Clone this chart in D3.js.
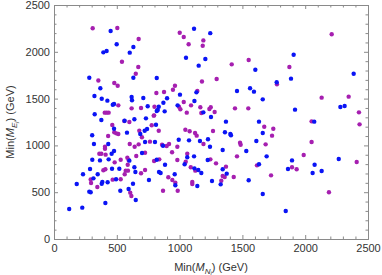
<!DOCTYPE html>
<html>
<head>
<meta charset="utf-8">
<script src="https://cdn.jsdelivr.net/npm/d3@7"></script>
<style>
  body { margin: 0; background: #fff; }
  svg { display: block; }
</style>
</head>
<body>
<div id="chart-area"></div>
<script>
// Min(M_N) vs Min(M_E) in GeV
var blueMN = [451,499,393,419,632,603,632,281,369,322,380,425,468,478,618,621,711,746,818,900,871,834,826,818,881,324,1003,984,1118,1189,1134,1152,1051,1115,1205,1244,
  1603,1457,1561,1592,1662,1773,1908,1887,2386,2280,2314,1919,1250,
  377,304,318,231,181,121,225,281,292,287,305,314,348,366,432,435,459,478,478,380,385,427,409,494,462,520,528,562,581,600,594,651,629,640,648,640,732,687,701,725,804,756,741,722,812,818,836,849,868,884,961,966,993,1040,1061,1075,1115,1141,1118,1149,1173,1226,1224,
  1369,1361,1404,1409,1162,1242,1258,1343,1375,1327,1343,1531,1611,1632,1662,1693,1632,1550,1662,1845,1895,1863,2072,2075,2059,2131,2267];
var blueME = [2222,2080,1994,2008,2051,1991,1723,1723,1610,1528,1499,1478,1435,1442,1517,1482,1506,1418,1720,1503,1456,1413,1378,1368,1364,1332,1542,1428,1474,1353,1567,1852,1937,2247,1923,2199,
  1809,1581,1610,1574,1492,1674,1969,1713,1766,1410,1421,1382,1303,
  1271,1108,1015,691,588,321,335,506,499,748,847,648,691,840,1015,851,911,940,1178,591,609,606,385,638,751,751,516,1264,1136,837,534,417,590,766,716,1279,1289,1122,919,1036,1036,630,1175,1157,1221,847,716,705,997,794,691,574,1061,798,873,1054,883,566,755,737,705,1065,844,
  1254,1140,1122,1108,1047,986,620,745,698,584,951,940,1047,1254,1133,883,798,627,481,299,840,748,1254,794,705,727,855];

var purpleMN = [308,504,541,674,671,651,353,480,507,512,618,693,815,876,800,797,404,419,435,947,963,1033,995,1006,1057,1091,1165,1173,1141,1178,1072,1033,1001,1189,1184,
  1415,1550,1295,1775,1874,2211,2131,2346,2428,1441,1547,1279,1237,1248,
  295,292,345,361,377,406,406,411,464,480,496,512,431,393,409,467,483,531,531,560,584,594,603,587,571,589,563,607,616,655,642,600,679,700,674,725,764,725,693,778,794,834,797,838,860,897,916,910,868,940,942,966,985,982,982,1049,1061,1046,1080,1123,1136,1101,1101,1089,1125,1190,
  1266,1245,1290,1369,1343,1359,1431,1332,1457,1481,1486,1674,1746,1736,1685,1616,1728,1895,1932,1988,2051,2051,2189,2410,2433];
var purpleME = [2251,2254,1894,2137,1838,1766,1693,1667,1638,1428,1396,1400,1560,1570,1413,1321,1350,1350,1350,1595,1638,1464,1413,1386,1350,1428,1407,1346,1581,1682,2080,2158,2204,2122,2065,
  1866,1912,1709,1653,1838,2187,1510,1521,1353,1396,1396,1357,1389,1407,
  598,637,556,911,911,986,965,901,1218,1140,1129,1122,1100,734,745,634,819,638,847,1260,869,844,1015,794,730,730,691,495,459,887,986,1250,1157,1087,1011,922,1040,737,702,1215,1318,1157,833,851,1007,994,1015,659,516,927,630,602,516,844,986,826,911,1168,1151,1133,1104,609,588,766,730,1015,
  1154,851,808,773,673,662,662,623,883,1029,1007,1200,1178,1104,1011,787,680,766,745,897,1036,1257,499,823,1225];

var majorTicks = [0, 500, 1000, 1500, 2000, 2500];

var margin = { left: 54, right: 14, top: 5, bottom: 36 };
var width = 382 - margin.left - margin.right,
    height = 275 - margin.top - margin.bottom;

var svg = d3.select("#chart-area")
    .append("svg")
        .attr("width", 382)
        .attr("height", 275);

var g = svg.append("g")
    .attr("transform", "translate(" + margin.left + "," + margin.top + ")");

var x = d3.scaleLinear().domain([0, 2500]).range([0, width]);
var y = d3.scaleLinear().domain([0, 2500]).range([height, 0]);

var minorTicks = d3.range(0, 2501, 100).filter(function(v){ return v % 500 !== 0; });

var frameColor = "#8a8a8a";
var font = "'Liberation Sans', Arial, sans-serif";

function styleAxis(sel) {
    sel.selectAll("path").attr("stroke", frameColor).attr("stroke-width", 1);
    sel.selectAll("line").attr("stroke", frameColor).attr("stroke-width", 1);
    sel.selectAll("text").attr("fill", "#333").attr("font-size", "11px").attr("font-family", font);
}

// major axes (labels on bottom and left)
g.append("g").attr("transform", "translate(0," + height + ")")
    .call(d3.axisBottom(x).tickValues(majorTicks).tickSize(-4).tickSizeOuter(0).tickPadding(5).tickFormat(d3.format("d")))
    .call(styleAxis);
g.append("g")
    .call(d3.axisLeft(y).tickValues(majorTicks).tickSize(-4).tickSizeOuter(0).tickPadding(4).tickFormat(d3.format("d")))
    .call(styleAxis);
g.append("g")
    .call(d3.axisTop(x).tickValues(majorTicks).tickSize(-4).tickSizeOuter(0).tickFormat(""))
    .call(styleAxis);
g.append("g").attr("transform", "translate(" + width + ",0)")
    .call(d3.axisRight(y).tickValues(majorTicks).tickSize(-4).tickSizeOuter(0).tickFormat(""))
    .call(styleAxis);

// minor ticks
g.append("g").attr("transform", "translate(0," + height + ")")
    .call(d3.axisBottom(x).tickValues(minorTicks).tickSize(-2.5).tickSizeOuter(0).tickFormat(""))
    .call(styleAxis);
g.append("g")
    .call(d3.axisLeft(y).tickValues(minorTicks).tickSize(-2.5).tickSizeOuter(0).tickFormat(""))
    .call(styleAxis);
g.append("g")
    .call(d3.axisTop(x).tickValues(minorTicks).tickSize(-2.5).tickSizeOuter(0).tickFormat(""))
    .call(styleAxis);
g.append("g").attr("transform", "translate(" + width + ",0)")
    .call(d3.axisRight(y).tickValues(minorTicks).tickSize(-2.5).tickSizeOuter(0).tickFormat(""))
    .call(styleAxis);

// points
g.selectAll("circle.purple")
    .data(d3.zip(purpleMN, purpleME))
    .enter().append("circle")
        .attr("class", "purple")
        .attr("cx", function(d){ return x(d[0]); })
        .attr("cy", function(d){ return y(d[1]); })
        .attr("r", 2.2)
        .attr("fill", "#a61fb0");

g.selectAll("circle.blue")
    .data(d3.zip(blueMN, blueME))
    .enter().append("circle")
        .attr("class", "blue")
        .attr("cx", function(d){ return x(d[0]); })
        .attr("cy", function(d){ return y(d[1]); })
        .attr("r", 2.2)
        .attr("fill", "#0a14f5");

// axis titles
function addTitle(t, sub) {
    t.append("tspan").text("Min(");
    t.append("tspan").attr("font-style", "italic").text("M");
    t.append("tspan").attr("font-style", "italic").attr("font-size", "8px").attr("dy", 2.5).text(sub[0]);
    t.append("tspan").attr("font-style", "italic").attr("font-size", "6px").attr("dy", 1.5).text(sub[1]);
    t.append("tspan").attr("dy", -4).text(") (GeV)");
}

var xTitle = g.append("text")
    .attr("x", width / 2)
    .attr("y", height + 32)
    .attr("text-anchor", "middle")
    .attr("font-size", "11px")
    .attr("font-family", font)
    .attr("fill", "#333");
addTitle(xTitle, ["N", "i"]);

var yTitle = g.append("text")
    .attr("transform", "translate(" + (-margin.left + 14) + "," + (height / 2) + ") rotate(-90)")
    .attr("text-anchor", "middle")
    .attr("font-size", "11px")
    .attr("font-family", font)
    .attr("fill", "#333");
addTitle(yTitle, ["E", "j"]);
</script>
</body>
</html>
